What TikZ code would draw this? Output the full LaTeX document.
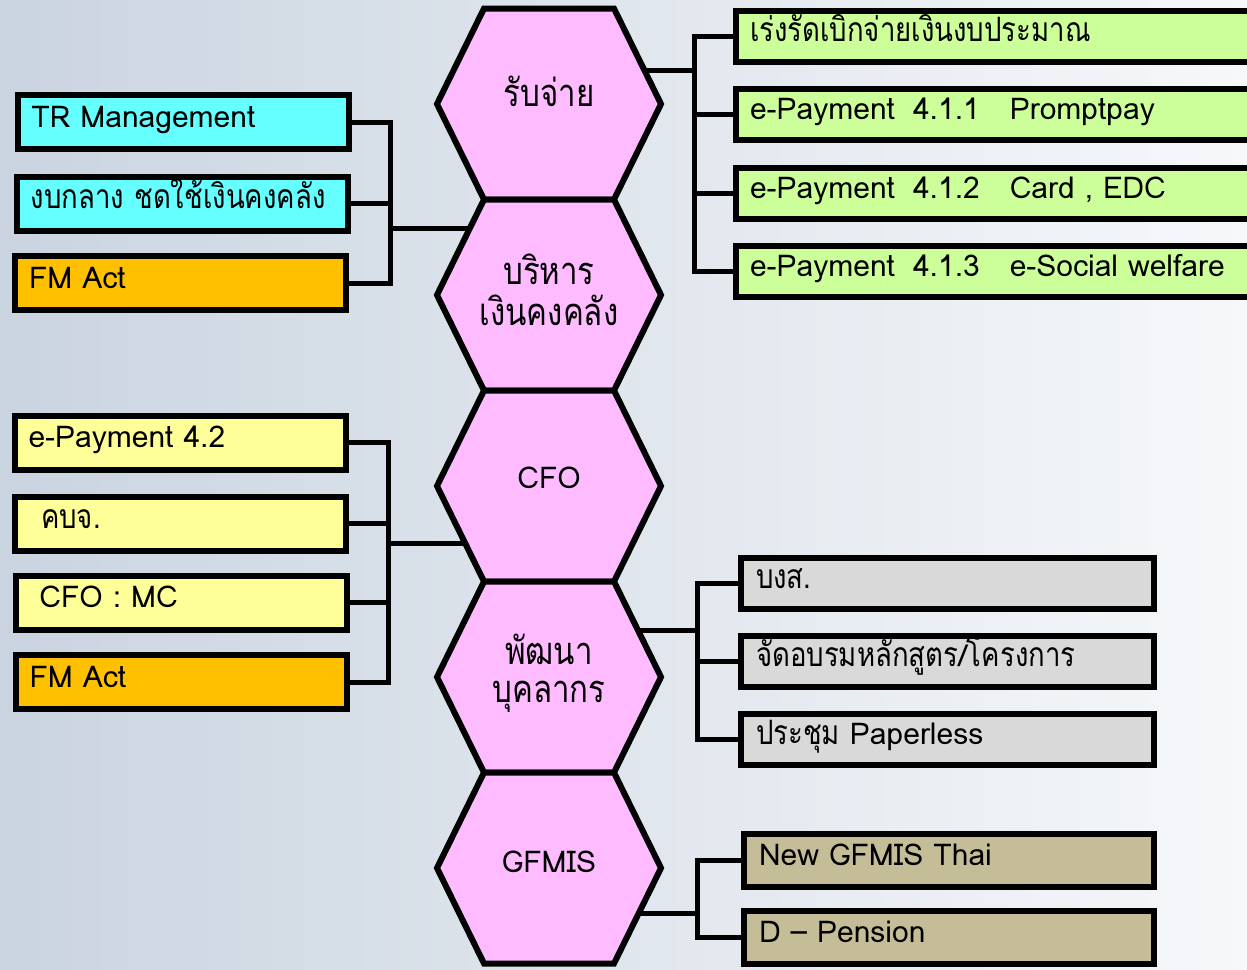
\documentclass[tikz,border=0pt]{standalone}
\usepackage{fontspec}
\setmainfont{Loma}[Script=Thai]
\newfontfamily\thai{Loma}[Script=Thai, Scale=1.12, FakeStretch=0.82]
\newcommand{\hexthai}{\fontsize{17}{19}\selectfont\thai}
\newcommand{\hexlatin}{\fontsize{15}{18}\selectfont}
\definecolor{bgleft}{HTML}{CAD4E0}
\definecolor{bgright}{HTML}{F6F8FA}
\definecolor{hexpink}{HTML}{FFBBFF}
\definecolor{cyanbox}{HTML}{66FFFF}
\definecolor{orangebox}{HTML}{FFC000}
\definecolor{yellowbox}{HTML}{FFFF99}
\definecolor{greenbox}{HTML}{CCFF99}
\definecolor{greybox}{HTML}{D9D9D9}
\definecolor{tanbox}{HTML}{C4BD97}
\tikzset{
	link/.style={line width=2.5pt},
	hexa/.style={draw, fill=hexpink, line width=3pt, line join=miter},
	hexlabel/.style={align=center},
	box/.style={draw, line width=3pt, inner ysep=0pt, text height=11pt, text depth=6pt, align=left, font=\fontsize{15}{17}\selectfont},
	lbox/.style={box, inner xsep=7pt, text width=151.5pt, minimum height=27pt},
	gbox/.style={box, fill=greenbox, inner xsep=7pt, text width=247.5pt, minimum height=25.5pt},
	ybox/.style={box, fill=greybox, inner xsep=7.5pt, text width=191.5pt, minimum height=25.5pt},
	tbox/.style={box, fill=tanbox, inner xsep=7.5pt, text width=190pt, minimum height=26.5pt}
}
\begin{document}
\begin{tikzpicture}[x=0.5pt, y=-0.5pt]
	\useasboundingbox (0,0) rectangle (1247,969);
	\clip (0,0) rectangle (1247,969);
	\shade[left color=bgleft, right color=bgright] (0,0) rectangle (1247,969);
	% hexagon centres
	\foreach \nm/\y in {rab/104, bri/295, cfo/486, pat/677, gfm/868}
		\coordinate (\nm) at (549,\y);
	% left boxes
	\node	(trm) at (183,122) [lbox, fill=cyanbox] {TR Management};
	\node	(ngb) at (182.5,203.5) [lbox, fill=cyanbox] {\thai งบกลาง ชดใช้เงินคงคลัง};
	\node	(fma) at (180.5,283) [lbox, fill=orangebox] {FM Act};
	\node	(epy) at (180,442.5) [lbox, fill=yellowbox] {e-Payment 4.2};
	\node	(kbj) at (180.5,523.5) [lbox, fill=yellowbox] {\hspace*{6pt}\thai คบจ.};
	\node	(cfm) at (181,602.5) [lbox, fill=yellowbox] {\hspace*{5pt}CFO : MC};
	\node	(fmb) at (181,682) [lbox, fill=orangebox] {FM Act};
	% right boxes
	\node	(rg1) at (997.5,36.5) [gbox] {\thai เร่งรัดเบิกจ่ายเงินงบประมาณ};
	\node	(rg2) at (997.5,114.5) [gbox] {e-Payment\hspace{0.6em}4.1.1\hspace{1em}Promptpay};
	\node	(rg3) at (997.5,193) [gbox] {e-Payment\hspace{0.6em}4.1.2\hspace{1em}Card , EDC};
	\node	(rg4) at (997.5,271) [gbox] {e-Payment\hspace{0.6em}4.1.3\hspace{1em}e-Social welfare};
	\node	(bgs) at (947.5,583.5) [ybox] {\thai บงส.};
	\node	(jab) at (947.5,661.5) [ybox] {{\thai จัดอบรมหลักสูตร}/{\thai โครงการ}};
	\node	(pcm) at (947.5,739) [ybox] {{\thai ประชุม} Paperless};
	\node	(ngf) at (949,860) [tbox] {New GFMIS Thai};
	\node	(dpn) at (949,937.5) [tbox] {D -- Pension};
	% brackets
	\coordinate (lj1) at (390,228);
	\coordinate (lj2) at (388,543);
	\coordinate (rj1) at (694,70);
	\coordinate (rj2) at (697,630);
	\coordinate (rj3) at (697,913);
	\draw[link]
	(trm.east) -| (lj1)
	(ngb.east) -| (lj1)
	(fma.east) -| (lj1)
	(lj1) -- (lj1 -| bri)
	(epy.east) -| (lj2)
	(kbj.east) -| (lj2)
	(cfm.east) -| (lj2)
	(fmb.east) -| (lj2)
	(lj2) -- (lj2 -| cfo)
	(rg1.west) -| (rj1)
	(rg2.west) -| (rj1)
	(rg3.west) -| (rj1)
	(rg4.west) -| (rj1)
	(rj1) -- (rj1 -| rab)
	(bgs.west) -| (rj2)
	(jab.west) -| (rj2)
	(pcm.west) -| (rj2)
	(rj2) -- (rj2 -| pat)
	(ngf.west) -| (rj3)
	(dpn.west) -| (rj3)
	(rj3) -- (rj3 -| gfm)
	;
	% hexagons
	\foreach \nm/\txt/\fnt/\dy in {rab/{รับจ่าย}/\hexthai/6.5, bri/{บริหาร\\[1.5pt]เงินคงคลัง}/\hexthai/2.5, cfo/{CFO}/\hexlatin/4, pat/{พัฒนา\\บุคลากร}/\hexthai/2, gfm/{GFMIS}/\hexlatin/3} {
		\filldraw[hexa] (\nm) +(-65,-95.5) -- +(65,-95.5) -- +(112,0) -- +(65,95.5) -- +(-65,95.5) -- +(-112,0) -- cycle;
		\node (\nm-t) at ([yshift=\dy pt]\nm) [hexlabel, font=\fnt] {\txt};
	}
\end{tikzpicture}
\end{document}
